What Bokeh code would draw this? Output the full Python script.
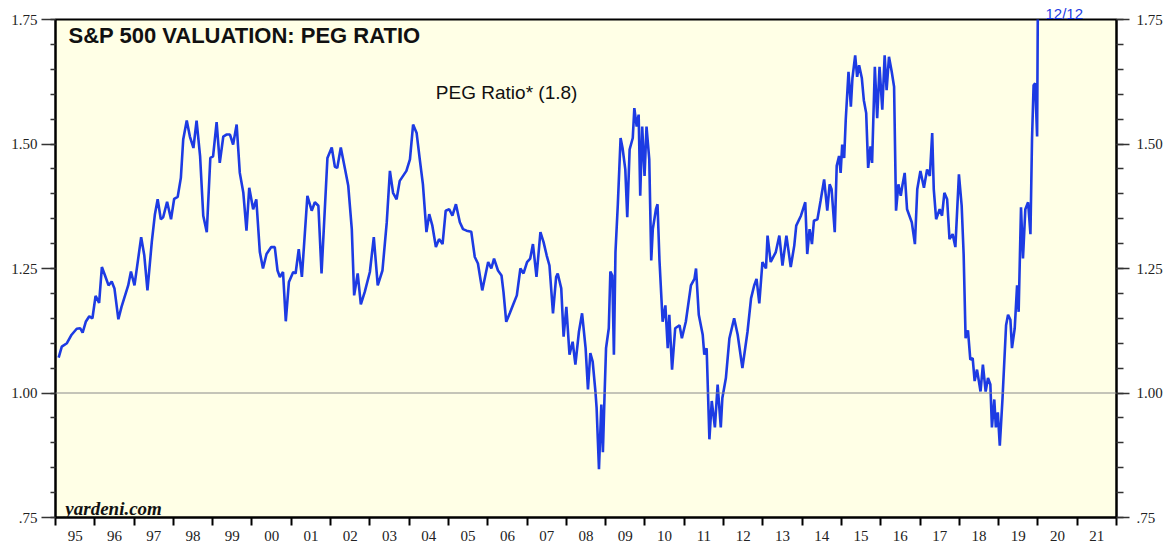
from bokeh.plotting import figure
from bokeh.models import FixedTicker, LinearAxis, Label, Span, Range1d, ColumnDataSource, Title
from bokeh.embed import file_html
from bokeh.resources import INLINE

# ---- data ----
dates = [
    1995.08, 1995.16, 1995.29, 1995.41, 1995.54, 1995.63, 1995.69, 1995.77, 1995.86, 1995.94,
    1996.02, 1996.11, 1996.18, 1996.26, 1996.35, 1996.43, 1996.50, 1996.60, 1996.68, 1996.85,
    1996.92, 1997.01, 1997.18, 1997.26, 1997.34, 1997.45, 1997.53, 1997.60, 1997.68, 1997.74,
    1997.84, 1997.94, 1998.02, 1998.11, 1998.19, 1998.25, 1998.34, 1998.42, 1998.51, 1998.59,
    1998.68, 1998.76, 1998.85, 1998.94, 1999.01, 1999.10, 1999.18, 1999.27, 1999.35, 1999.44,
    1999.52, 1999.61, 1999.69, 1999.78, 1999.86, 1999.93, 2000.03, 2000.11, 2000.20, 2000.28,
    2000.37, 2000.49, 2000.58, 2000.65, 2000.71, 2000.79, 2000.86, 2000.94, 2001.05, 2001.11,
    2001.19, 2001.27, 2001.41, 2001.52, 2001.60, 2001.69, 2001.77, 2001.92, 2002.03, 2002.11,
    2002.17, 2002.26, 2002.37, 2002.45, 2002.54, 2002.60, 2002.69, 2002.77, 2002.87, 2003.00,
    2003.10, 2003.20, 2003.32, 2003.43, 2003.51, 2003.59, 2003.68, 2003.76, 2003.93, 2004.02,
    2004.10, 2004.19, 2004.27, 2004.35, 2004.44, 2004.51, 2004.59, 2004.68, 2004.76, 2004.85,
    2004.93, 2005.02, 2005.10, 2005.19, 2005.29, 2005.37, 2005.46, 2005.58, 2005.67, 2005.75,
    2005.86, 2006.01, 2006.09, 2006.16, 2006.26, 2006.35, 2006.40, 2006.47, 2006.56, 2006.64,
    2006.74, 2006.83, 2006.91, 2007.00, 2007.08, 2007.15, 2007.24, 2007.34, 2007.42, 2007.50,
    2007.57, 2007.66, 2007.74, 2007.78, 2007.87, 2007.93, 2008.00, 2008.08, 2008.16, 2008.23,
    2008.32, 2008.40, 2008.49, 2008.55, 2008.61, 2008.67, 2008.74, 2008.77, 2008.83, 2008.89,
    2008.93, 2008.97, 2009.01, 2009.08, 2009.12, 2009.17, 2009.21, 2009.25, 2009.31, 2009.38,
    2009.43, 2009.50, 2009.55, 2009.61, 2009.69, 2009.73, 2009.79, 2009.84, 2009.88, 2009.93,
    2009.99, 2010.04, 2010.11, 2010.16, 2010.20, 2010.28, 2010.32, 2010.37, 2010.45, 2010.52,
    2010.58, 2010.62, 2010.69, 2010.77, 2010.88, 2010.94, 2011.04, 2011.17, 2011.26, 2011.30,
    2011.37, 2011.47, 2011.51, 2011.57, 2011.64, 2011.70, 2011.78, 2011.85, 2011.93, 2011.97,
    2012.06, 2012.15, 2012.27, 2012.36, 2012.48, 2012.61, 2012.70, 2012.78, 2012.84, 2012.91,
    2012.99, 2013.08, 2013.12, 2013.20, 2013.33, 2013.42, 2013.50, 2013.60, 2013.71, 2013.80,
    2013.85, 2013.97, 2014.08, 2014.13, 2014.19, 2014.25, 2014.30, 2014.39, 2014.47, 2014.56,
    2014.64, 2014.70, 2014.75, 2014.83, 2014.88, 2014.94, 2014.98, 2015.02, 2015.07, 2015.11,
    2015.18, 2015.24, 2015.28, 2015.35, 2015.40, 2015.45, 2015.52, 2015.57, 2015.63, 2015.68,
    2015.74, 2015.78, 2015.85, 2015.91, 2015.97, 2016.04, 2016.10, 2016.15, 2016.21, 2016.28,
    2016.34, 2016.39, 2016.45, 2016.51, 2016.55, 2016.61, 2016.67, 2016.79, 2016.87, 2016.93,
    2017.01, 2017.10, 2017.18, 2017.25, 2017.31, 2017.35, 2017.41, 2017.50, 2017.56, 2017.62,
    2017.69, 2017.75, 2017.83, 2017.90, 2017.99, 2018.06, 2018.11, 2018.16, 2018.22, 2018.28,
    2018.34, 2018.39, 2018.45, 2018.54, 2018.60, 2018.67, 2018.73, 2018.79, 2018.83, 2018.89,
    2018.93, 2018.98, 2019.03, 2019.10, 2019.19, 2019.24, 2019.30, 2019.34, 2019.41, 2019.47,
    2019.51, 2019.57, 2019.62, 2019.68, 2019.75, 2019.81, 2019.85, 2019.89, 2019.93, 2019.98,
    2020.00,
]
peg_ratio = [
    1.071, 1.093, 1.100, 1.117, 1.129, 1.130, 1.121, 1.143, 1.154, 1.150,
    1.195, 1.181, 1.253, 1.236, 1.216, 1.224, 1.210, 1.148, 1.173, 1.216,
    1.244, 1.216, 1.313, 1.276, 1.206, 1.303, 1.359, 1.389, 1.349, 1.353,
    1.384, 1.349, 1.390, 1.394, 1.432, 1.509, 1.547, 1.515, 1.492, 1.547,
    1.475, 1.356, 1.323, 1.472, 1.475, 1.544, 1.462, 1.515, 1.519, 1.519,
    1.499, 1.539, 1.442, 1.402, 1.326, 1.412, 1.369, 1.389, 1.283, 1.250,
    1.279, 1.293, 1.293, 1.246, 1.233, 1.243, 1.144, 1.223, 1.243, 1.240,
    1.289, 1.233, 1.396, 1.366, 1.383, 1.376, 1.240, 1.472, 1.493, 1.454,
    1.452, 1.493, 1.449, 1.416, 1.329, 1.196, 1.240, 1.178, 1.203, 1.243,
    1.313, 1.216, 1.246, 1.343, 1.446, 1.402, 1.389, 1.426, 1.446, 1.469,
    1.539, 1.522, 1.469, 1.419, 1.323, 1.359, 1.336, 1.293, 1.309, 1.299,
    1.366, 1.369, 1.356, 1.379, 1.343, 1.329, 1.326, 1.324, 1.273, 1.260,
    1.206, 1.263, 1.250, 1.270, 1.246, 1.236, 1.203, 1.143, 1.160, 1.176,
    1.196, 1.250, 1.240, 1.263, 1.270, 1.299, 1.233, 1.323, 1.303, 1.276,
    1.256, 1.160, 1.233, 1.240, 1.210, 1.113, 1.173, 1.077, 1.103, 1.057,
    1.123, 1.160, 1.090, 1.007, 1.080, 1.063, 1.003, 0.970, 0.847, 0.977,
    0.881, 0.990, 1.090, 1.130, 1.244, 1.236, 1.077, 1.283, 1.379, 1.512,
    1.492, 1.449, 1.353, 1.489, 1.512, 1.572, 1.535, 1.559, 1.396, 1.535,
    1.436, 1.535, 1.469, 1.266, 1.329, 1.369, 1.379, 1.266, 1.143, 1.176,
    1.090, 1.157, 1.047, 1.130, 1.136, 1.110, 1.143, 1.216, 1.229, 1.250,
    1.157, 1.117, 1.077, 1.090, 0.907, 0.984, 0.931, 1.017, 0.931, 0.990,
    1.030, 1.110, 1.150, 1.117, 1.050, 1.123, 1.190, 1.216, 1.229, 1.180,
    1.263, 1.250, 1.316, 1.263, 1.283, 1.316, 1.256, 1.316, 1.253, 1.296,
    1.336, 1.356, 1.383, 1.279, 1.329, 1.299, 1.346, 1.349, 1.386, 1.429,
    1.366, 1.419, 1.409, 1.323, 1.456, 1.476, 1.442, 1.499, 1.472, 1.549,
    1.645, 1.575, 1.632, 1.678, 1.635, 1.658, 1.632, 1.588, 1.562, 1.452,
    1.495, 1.462, 1.655, 1.552, 1.655, 1.569, 1.678, 1.608, 1.675, 1.645,
    1.615, 1.366, 1.419, 1.396, 1.416, 1.442, 1.369, 1.343, 1.299, 1.409,
    1.446, 1.412, 1.449, 1.436, 1.522, 1.409, 1.349, 1.369, 1.356, 1.402,
    1.389, 1.309, 1.319, 1.293, 1.439, 1.376, 1.279, 1.110, 1.126, 1.067,
    1.070, 1.024, 1.047, 1.003, 1.057, 1.003, 1.030, 1.017, 0.931, 0.987,
    0.931, 0.961, 0.894, 0.990, 1.136, 1.157, 1.147, 1.090, 1.130, 1.216,
    1.163, 1.373, 1.270, 1.369, 1.383, 1.319, 1.509, 1.618, 1.622, 1.515,
    1.800,
]

year_ticks = [1995.5 + i for i in range(27)]
year_bounds = list(range(1995, 2023))
year_labels = ["95", "96", "97", "98", "99", "00", "01", "02", "03", "04", "05", "06", "07",
               "08", "09", "10", "11", "12", "13", "14", "15", "16", "17", "18", "19", "20", "21"]
y_ticks = [0.75, 1.00, 1.25, 1.50, 1.75]
y_labels = [".75", "1.00", "1.25", "1.50", "1.75"]
y_minor = [round(0.75 + 0.05 * i, 2) for i in range(21)]

title_text = "S&P 500 VALUATION: PEG RATIO"
series_label = "PEG Ratio* (1.8)"
source_text = "yardeni.com"
date_label = "12/12"

LINE = "#1D3BE3"
BG = "#FFFFE6"
SERIF = "Liberation Serif"
SANS = "Liberation Sans"

p = figure(width=1165, height=543,
           x_range=Range1d(1995, 2022), y_range=Range1d(0.75, 1.75),
           output_backend="svg", toolbar_location=None,
           min_border_left=55, min_border_right=47, min_border_top=19, min_border_bottom=23,
           background_fill_color=BG, border_fill_color="white",
           outline_line_color="black", outline_line_width=2, outline_line_alpha=1.0)
p.grid.visible = False

# date stamp above the frame, next to the last observation
p.add_layout(Title(text=date_label, align="left", offset=990, standoff=-4,
                   text_font=SANS, text_font_style="normal", text_font_size="15px",
                   text_color=LINE), "above")

# x axis
xa = p.xaxis[0]
xa.ticker = FixedTicker(ticks=year_ticks, minor_ticks=year_bounds)
xa.major_label_overrides = {t: l for t, l in zip(year_ticks, year_labels)}
xa.major_tick_out = 0
xa.major_tick_in = 0
xa.minor_tick_out = 8
xa.minor_tick_in = 0
xa.minor_tick_line_width = 2
xa.minor_tick_line_color = "black"
xa.axis_line_width = 2
xa.axis_line_color = "black"
xa.major_label_standoff = 5
xa.major_label_text_font = SERIF
xa.major_label_text_font_size = "15px"
xa.major_label_text_color = "#222222"

# y axes
def style_y(ax, major_out, minor_out, standoff):
    ax.ticker = FixedTicker(ticks=y_ticks, minor_ticks=y_minor)
    ax.major_label_overrides = {t: l for t, l in zip(y_ticks, y_labels)}
    ax.major_tick_out = major_out
    ax.major_tick_in = 0
    ax.minor_tick_out = minor_out
    ax.minor_tick_in = 0
    ax.major_tick_line_width = 1.5
    ax.minor_tick_line_width = 1.5
    ax.major_tick_line_color = "#333333"
    ax.minor_tick_line_color = "#333333"
    ax.axis_line_width = 2
    ax.axis_line_color = "black"
    ax.major_label_standoff = standoff
    ax.major_label_text_font = SERIF
    ax.major_label_text_font_size = "15px"
    ax.major_label_text_color = "#222222"

style_y(p.yaxis[0], 14, 5, 4)
ra = LinearAxis()
style_y(ra, 13, 7, 7)
p.add_layout(ra, "right")

# reference line at 1.00
p.add_layout(Span(location=1.0, dimension="width", line_color="#8a8a8a", line_width=1))

src = ColumnDataSource(data=dict(x=dates, y=peg_ratio))
p.line("x", "y", source=src, line_color=LINE, line_width=2.6)

p.add_layout(Label(x=1995.33, y=1.718, text=title_text, text_font=SANS, text_font_style="bold",
                   text_font_size="22px", text_color="#111111", text_baseline="middle"))
p.add_layout(Label(x=2006.48, y=1.604, text=series_label, text_font=SANS,
                   text_font_size="19px", text_color="#111111", text_baseline="middle",
                   text_align="center"))
p.add_layout(Label(x=1995.25, y=0.768, text=source_text, text_font=SERIF,
                   text_font_style="bold italic", text_font_size="19px", text_color="#111111",
                   text_baseline="alphabetic"))

open("out.html", "w").write(file_html(p, INLINE))
